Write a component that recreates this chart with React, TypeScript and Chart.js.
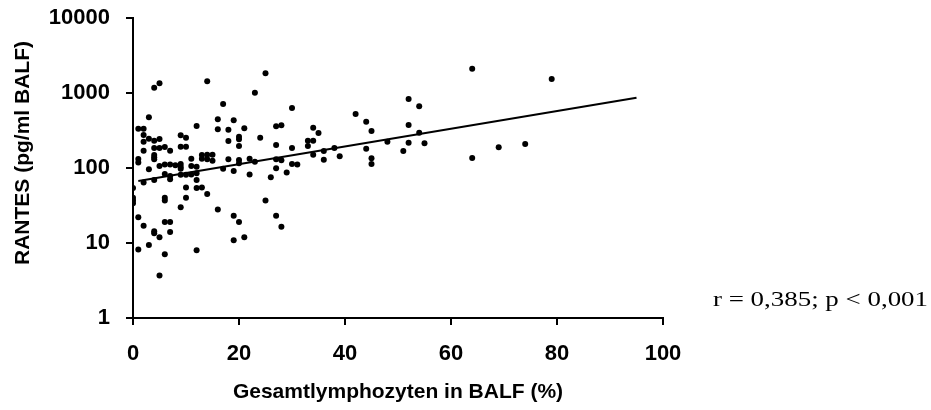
import React, { useEffect, useRef } from "react";
import { Chart, registerables } from "chart.js";

Chart.register(...registerables);

// Data
const lymphoPct: number[] = [
  4, 5, 14, 23, 17, 3, 16, 19, 12, 1, 2, 16, 18, 21, 2, 9, 10, 3, 4, 5,
  2, 20, 20, 24, 18, 9, 10, 20, 4, 5, 6, 2, 7, 15, 14, 13, 4, 4, 4, 1,
  1, 11, 13, 14, 15, 18, 20, 20, 22, 23, 5, 6, 7, 8, 9, 9, 9, 11, 12, 3,
  17, 19, 6, 7, 7, 9, 10, 11, 12, 12, 22, 2, 4, 10, 12, 13, 0, 0, 0, 0,
  14, 6, 6, 10, 9, 16, 1, 19, 20, 2, 6, 7, 4, 4, 7, 5, 21, 19, 3, 1,
  12, 6, 5, 25, 30, 27, 28, 34, 35, 42, 44, 45, 27, 33, 34, 33, 30, 44, 48, 27,
  28, 34, 36, 38, 39, 36, 30, 31, 27, 45, 45, 29, 26, 25, 27, 28, 64, 79, 52, 54,
  52, 54, 52, 55, 51, 64, 69, 74,
];
const rantesValues: number[] = [
  1177, 1346, 1432, 1009, 713, 474, 446, 432, 363, 334, 334, 328, 324, 338, 275, 273, 254, 246, 231, 244,
  224, 261, 241, 254, 229, 192, 192, 197, 185, 185, 191, 170, 170, 150, 150, 149, 149, 139, 131, 132,
  118, 133, 133, 131, 125, 131, 128, 116, 133, 121, 106, 111, 111, 109, 113, 104, 98, 106, 104, 96,
  98, 91, 83, 78, 71, 81, 81, 82, 85, 69, 82, 64, 69, 55, 54, 55, 54, 40, 37, 34,
  45, 40, 37, 40, 30, 28, 22, 23, 19, 17, 19, 19, 14.3, 13.5, 14, 11.9, 11.9, 10.9, 9.4, 8.2,
  8.0, 7.1, 3.7, 1832, 631, 360, 371, 345, 293, 525, 414, 311, 203, 231, 231, 197, 185, 181, 224, 131,
  127, 150, 169, 185, 143, 129, 113, 111, 99, 135, 113, 87, 75, 37, 23, 16.5, 2109, 1537, 832, 665,
  375, 296, 217, 213, 169, 136, 189, 209,
];
const fitX: number[] = [1, 95];
const fitY: number[] = [67, 865];
const xTicks: number[] = [0, 20, 40, 60, 80, 100];
const yTicks: number[] = [1, 10, 100, 1000, 10000];
const xTitle = "Gesamtlymphozyten in BALF (%)";
const yTitle = "RANTES (pg/ml BALF)";
const statText = "r = 0,385; p < 0,001";

const SANS = '"Liberation Sans", Arial, sans-serif';
const SERIF = '"Liberation Serif", "Times New Roman", serif';

const textPlugin = {
  id: "extraText",
  afterDraw(chart: any) {
    const ctx = chart.ctx;
    ctx.save();
    ctx.fillStyle = "#000";
    // y axis title
    ctx.font = `bold 21px ${SANS}`;
    ctx.translate(23, 153);
    ctx.rotate(-Math.PI / 2);
    ctx.textAlign = "center";
    ctx.textBaseline = "middle";
    ctx.fillText(yTitle, 0, 0);
    ctx.restore();

    ctx.save();
    ctx.fillStyle = "#000";
    ctx.font = `22px ${SERIF}`;
    ctx.textAlign = "left";
    ctx.textBaseline = "middle";
    const w = ctx.measureText(statText).width;
    const sx = 215 / w;
    ctx.translate(713, 300);
    ctx.scale(sx, 1);
    ctx.fillText(statText, 0, 0);
    ctx.restore();
  },
};

export default function App() {
  const ref = useRef<HTMLCanvasElement | null>(null);
  useEffect(() => {
    document.body.style.margin = "0";
    const canvas = ref.current;
    if (!canvas) return;
    const points = lymphoPct.map((x, i) => ({ x, y: rantesValues[i] }));
    const fit = fitX.map((x, i) => ({ x, y: fitY[i] }));
    const tickFont = { family: SANS, weight: "bold" as const, size: 22 };
    const chart = new Chart(canvas, {
      type: "scatter",
      data: {
        datasets: [
          {
            type: "scatter",
            data: points,
            backgroundColor: "#000",
            borderColor: "#000",
            pointRadius: 3,
            pointBorderWidth: 0,
          },
          {
            type: "line",
            data: fit,
            borderColor: "#000",
            borderWidth: 2,
            pointRadius: 0,
            fill: false,
          } as any,
        ],
      },
      options: {
        responsive: false,
        animation: false,
        layout: { padding: { top: 18, right: 268, left: 0, bottom: 0 } },
        plugins: {
          legend: { display: false },
          tooltip: { enabled: false },
        },
        scales: {
          x: {
            type: "linear",
            min: 0,
            max: 100,
            afterBuildTicks: (s: any) => {
              s.ticks = xTicks.map((v) => ({ value: v }));
            },
            afterFit: (s: any) => {
              s.height = 92;
              s.paddingLeft = 0;
              s.paddingRight = 0;
            },
            ticks: { color: "#000", font: tickFont, padding: 16, maxRotation: 0 },
            grid: { drawOnChartArea: false, drawTicks: true, tickLength: 7, color: "#000", lineWidth: 2 },
            border: { color: "#000", width: 2 },
            title: {
              display: true,
              text: xTitle,
              color: "#000",
              font: { family: SANS, weight: "bold", size: 21 },
              padding: { top: 0, bottom: 5 },
            },
          },
          y: {
            type: "logarithmic",
            min: 1,
            max: 10000,
            afterBuildTicks: (s: any) => {
              s.ticks = yTicks.map((v) => ({ value: v }));
            },
            afterFit: (s: any) => {
              s.width = 133;
              s.paddingTop = 0;
              s.paddingBottom = 0;
            },
            ticks: {
              color: "#000",
              font: tickFont,
              padding: 16,
              callback: (v: any) => String(v),
            },
            grid: { drawOnChartArea: false, drawTicks: true, tickLength: 7, color: "#000", lineWidth: 2 },
            border: { color: "#000", width: 2 },
          },
        },
      },
      plugins: [textPlugin],
    });
    return () => chart.destroy();
  }, []);
  return (
    <div style={{ width: 931, height: 410 }}>
      <canvas ref={ref} width={931} height={410} style={{ display: "block" }} />
    </div>
  );
}
